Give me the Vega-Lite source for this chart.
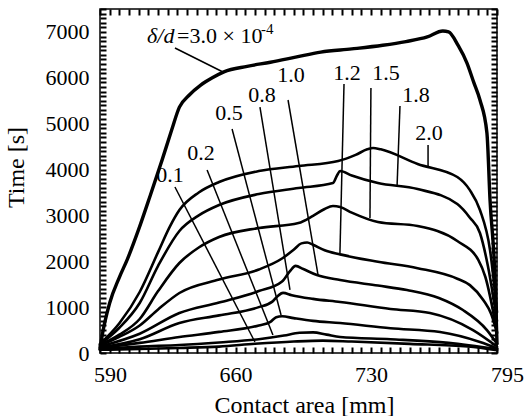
{
  "$schema": "https://vega.github.io/schema/vega-lite/v6.json",
  "width": 397,
  "height": 344,
  "autosize": {"type": "none"},
  "padding": {"left": 100, "top": 9, "right": 29, "bottom": 63},
  "background": "white",
  "config": {
    "view": {"stroke": "black", "strokeWidth": 1.5},
    "font": "Liberation Serif"
  },
  "datasets": {
    "curves": [
      {"s": "3.0", "x": 590, "t": 80}, {"s": "3.0", "x": 591, "t": 350}, {"s": "3.0", "x": 595, "t": 1090}, {"s": "3.0", "x": 600, "t": 1650}, {"s": "3.0", "x": 604, "t": 2030}, {"s": "3.0", "x": 610, "t": 2700}, {"s": "3.0", "x": 616, "t": 3440}, {"s": "3.0", "x": 622, "t": 4200}, {"s": "3.0", "x": 627, "t": 4860}, {"s": "3.0", "x": 631, "t": 5360}, {"s": "3.0", "x": 636, "t": 5620}, {"s": "3.0", "x": 642, "t": 5840}, {"s": "3.0", "x": 648, "t": 6000}, {"s": "3.0", "x": 654, "t": 6130}, {"s": "3.0", "x": 666, "t": 6250}, {"s": "3.0", "x": 678, "t": 6340}, {"s": "3.0", "x": 691, "t": 6450}, {"s": "3.0", "x": 704, "t": 6560}, {"s": "3.0", "x": 720, "t": 6630}, {"s": "3.0", "x": 736, "t": 6710}, {"s": "3.0", "x": 748, "t": 6790}, {"s": "3.0", "x": 759, "t": 6890}, {"s": "3.0", "x": 767, "t": 7020}, {"s": "3.0", "x": 770, "t": 7000}, {"s": "3.0", "x": 775, "t": 6700}, {"s": "3.0", "x": 779.5, "t": 6322}, {"s": "3.0", "x": 783, "t": 5900}, {"s": "3.0", "x": 786.2, "t": 5515}, {"s": "3.0", "x": 789.8, "t": 4796}, {"s": "3.0", "x": 791.4, "t": 3335}, {"s": "3.0", "x": 794, "t": 1590}, {"s": "3.0", "x": 795, "t": 200},

      {"s": "2.0", "x": 590, "t": 200}, {"s": "2.0", "x": 600, "t": 650}, {"s": "2.0", "x": 610.5, "t": 1330}, {"s": "2.0", "x": 620, "t": 2200}, {"s": "2.0", "x": 626, "t": 2750}, {"s": "2.0", "x": 631, "t": 3117}, {"s": "2.0", "x": 641, "t": 3500}, {"s": "2.0", "x": 651.5, "t": 3728}, {"s": "2.0", "x": 672, "t": 3968}, {"s": "2.0", "x": 692.5, "t": 4077}, {"s": "2.0", "x": 713, "t": 4186}, {"s": "2.0", "x": 722, "t": 4320}, {"s": "2.0", "x": 728, "t": 4440}, {"s": "2.0", "x": 731, "t": 4470}, {"s": "2.0", "x": 735, "t": 4440}, {"s": "2.0", "x": 754, "t": 4120}, {"s": "2.0", "x": 774.5, "t": 3837}, {"s": "2.0", "x": 781, "t": 3550}, {"s": "2.0", "x": 786.2, "t": 3117}, {"s": "2.0", "x": 791.4, "t": 2245}, {"s": "2.0", "x": 795, "t": 890},

      {"s": "1.8", "x": 590, "t": 190}, {"s": "1.8", "x": 600, "t": 550}, {"s": "1.8", "x": 610.5, "t": 1090}, {"s": "1.8", "x": 620, "t": 1900}, {"s": "1.8", "x": 631, "t": 2660}, {"s": "1.8", "x": 641, "t": 3000}, {"s": "1.8", "x": 651.5, "t": 3226}, {"s": "1.8", "x": 672, "t": 3466}, {"s": "1.8", "x": 692.5, "t": 3597}, {"s": "1.8", "x": 710.3, "t": 3706}, {"s": "1.8", "x": 712.5, "t": 3880}, {"s": "1.8", "x": 714, "t": 3968}, {"s": "1.8", "x": 720, "t": 3870}, {"s": "1.8", "x": 733.5, "t": 3706}, {"s": "1.8", "x": 754, "t": 3575}, {"s": "1.8", "x": 774.5, "t": 3248}, {"s": "1.8", "x": 781, "t": 2950}, {"s": "1.8", "x": 786.2, "t": 2616}, {"s": "1.8", "x": 790.4, "t": 1875}, {"s": "1.8", "x": 795, "t": 700},

      {"s": "1.5", "x": 590, "t": 175}, {"s": "1.5", "x": 600, "t": 400}, {"s": "1.5", "x": 610.5, "t": 741}, {"s": "1.5", "x": 620, "t": 1350}, {"s": "1.5", "x": 631, "t": 1962}, {"s": "1.5", "x": 641, "t": 2300}, {"s": "1.5", "x": 651.5, "t": 2529}, {"s": "1.5", "x": 672, "t": 2725}, {"s": "1.5", "x": 692.5, "t": 2834}, {"s": "1.5", "x": 700, "t": 2990}, {"s": "1.5", "x": 706, "t": 3140}, {"s": "1.5", "x": 710.3, "t": 3205}, {"s": "1.5", "x": 714, "t": 3183}, {"s": "1.5", "x": 720, "t": 3060}, {"s": "1.5", "x": 733.5, "t": 2856}, {"s": "1.5", "x": 754, "t": 2769}, {"s": "1.5", "x": 774.5, "t": 2442}, {"s": "1.5", "x": 785.4, "t": 2027}, {"s": "1.5", "x": 789, "t": 1657}, {"s": "1.5", "x": 795, "t": 458},

      {"s": "1.2", "x": 590, "t": 160}, {"s": "1.2", "x": 600, "t": 350}, {"s": "1.2", "x": 610.5, "t": 600}, {"s": "1.2", "x": 620, "t": 950}, {"s": "1.2", "x": 631, "t": 1308}, {"s": "1.2", "x": 651.5, "t": 1600}, {"s": "1.2", "x": 672, "t": 1820}, {"s": "1.2", "x": 684, "t": 2060}, {"s": "1.2", "x": 690, "t": 2250}, {"s": "1.2", "x": 694, "t": 2390}, {"s": "1.2", "x": 697, "t": 2410}, {"s": "1.2", "x": 700, "t": 2360}, {"s": "1.2", "x": 706, "t": 2240}, {"s": "1.2", "x": 714, "t": 2150}, {"s": "1.2", "x": 733.5, "t": 1990}, {"s": "1.2", "x": 754, "t": 1850}, {"s": "1.2", "x": 774.5, "t": 1620}, {"s": "1.2", "x": 781, "t": 1480}, {"s": "1.2", "x": 788, "t": 1150}, {"s": "1.2", "x": 792, "t": 850}, {"s": "1.2", "x": 795, "t": 436},

      {"s": "1.0", "x": 590, "t": 140}, {"s": "1.0", "x": 610.5, "t": 420}, {"s": "1.0", "x": 631, "t": 872}, {"s": "1.0", "x": 651.5, "t": 1100}, {"s": "1.0", "x": 672, "t": 1350}, {"s": "1.0", "x": 684, "t": 1560}, {"s": "1.0", "x": 688, "t": 1780}, {"s": "1.0", "x": 691, "t": 1900}, {"s": "1.0", "x": 695, "t": 1830}, {"s": "1.0", "x": 702, "t": 1700}, {"s": "1.0", "x": 714, "t": 1590}, {"s": "1.0", "x": 733.5, "t": 1470}, {"s": "1.0", "x": 748.5, "t": 1373}, {"s": "1.0", "x": 765, "t": 1200}, {"s": "1.0", "x": 777.4, "t": 937}, {"s": "1.0", "x": 789.8, "t": 500}, {"s": "1.0", "x": 795, "t": 200},

      {"s": "0.8", "x": 590, "t": 120}, {"s": "0.8", "x": 610.5, "t": 300}, {"s": "0.8", "x": 631, "t": 654}, {"s": "0.8", "x": 651.5, "t": 820}, {"s": "0.8", "x": 672, "t": 1000}, {"s": "0.8", "x": 679, "t": 1120}, {"s": "0.8", "x": 682, "t": 1250}, {"s": "0.8", "x": 684.5, "t": 1310}, {"s": "0.8", "x": 689, "t": 1260}, {"s": "0.8", "x": 700, "t": 1180}, {"s": "0.8", "x": 714, "t": 1112}, {"s": "0.8", "x": 740, "t": 960}, {"s": "0.8", "x": 760.4, "t": 872}, {"s": "0.8", "x": 782.6, "t": 500}, {"s": "0.8", "x": 795, "t": 140},

      {"s": "0.5", "x": 590, "t": 110}, {"s": "0.5", "x": 610.5, "t": 220}, {"s": "0.5", "x": 631, "t": 349}, {"s": "0.5", "x": 651.5, "t": 460}, {"s": "0.5", "x": 672, "t": 600}, {"s": "0.5", "x": 678, "t": 680}, {"s": "0.5", "x": 681, "t": 780}, {"s": "0.5", "x": 684, "t": 800}, {"s": "0.5", "x": 690, "t": 760}, {"s": "0.5", "x": 700, "t": 700}, {"s": "0.5", "x": 714, "t": 654}, {"s": "0.5", "x": 740, "t": 540}, {"s": "0.5", "x": 765.6, "t": 458}, {"s": "0.5", "x": 786.2, "t": 240}, {"s": "0.5", "x": 795, "t": 100},

      {"s": "0.2", "x": 590, "t": 90}, {"s": "0.2", "x": 610.5, "t": 140}, {"s": "0.2", "x": 631, "t": 175}, {"s": "0.2", "x": 651.5, "t": 230}, {"s": "0.2", "x": 672, "t": 300}, {"s": "0.2", "x": 685, "t": 380}, {"s": "0.2", "x": 693, "t": 440}, {"s": "0.2", "x": 700, "t": 450}, {"s": "0.2", "x": 707, "t": 400}, {"s": "0.2", "x": 714, "t": 349}, {"s": "0.2", "x": 740, "t": 300}, {"s": "0.2", "x": 770, "t": 220}, {"s": "0.2", "x": 795, "t": 80},

      {"s": "0.1", "x": 590, "t": 70}, {"s": "0.1", "x": 631, "t": 110}, {"s": "0.1", "x": 651.5, "t": 140}, {"s": "0.1", "x": 670, "t": 200}, {"s": "0.1", "x": 690, "t": 250}, {"s": "0.1", "x": 705, "t": 270}, {"s": "0.1", "x": 720, "t": 250}, {"s": "0.1", "x": 750, "t": 200}, {"s": "0.1", "x": 780, "t": 140}, {"s": "0.1", "x": 795, "t": 60}
    ],
    "leaders": [
      {"x": 628.7, "y": 6650, "x2": 653.5, "y2": 6126},
      {"x": 628.7, "y": 3619, "x2": 670.0, "y2": 240},
      {"x": 645.3, "y": 3990, "x2": 679.3, "y2": 392},
      {"x": 658.2, "y": 4884, "x2": 683.5, "y2": 828},
      {"x": 672.6, "y": 5363, "x2": 688.1, "y2": 1374},
      {"x": 687.1, "y": 5516, "x2": 702.6, "y2": 1700},
      {"x": 716.0, "y": 5865, "x2": 713.9, "y2": 2180},
      {"x": 729.9, "y": 5778, "x2": 729.4, "y2": 2943},
      {"x": 744.9, "y": 5385, "x2": 743.4, "y2": 3641},
      {"x": 759.4, "y": 4535, "x2": 759.4, "y2": 4033}
    ],
    "labels": [
      {"label": "0.1", "x": 626.1, "y": 3728},
      {"label": "0.2", "x": 642.2, "y": 4208},
      {"label": "0.5", "x": 656.6, "y": 5080},
      {"label": "0.8", "x": 673.6, "y": 5472},
      {"label": "1.0", "x": 688.6, "y": 5908},
      {"label": "1.2", "x": 717.5, "y": 5952},
      {"label": "1.5", "x": 737.7, "y": 5952},
      {"label": "1.8", "x": 753.2, "y": 5472},
      {"label": "2.0", "x": 759.9, "y": 4644}
    ],
    "ratioItalic": [{"text": "δ/d", "x": 614.3, "y": 6759}],
    "ratioValue": [{"text": "=3.0 × 10", "x": 629.8, "y": 6759}],
    "ratioExp": [{"text": "-4", "x": 673.1, "y": 6955}]
  },
  "layer": [
    {
      "data": {"name": "curves"},
      "mark": {"type": "line", "color": "black", "interpolate": "monotone", "strokeCap": "round", "strokeJoin": "round"},
      "encoding": {
        "x": {
          "field": "x", "type": "quantitative",
          "scale": {"domain": [590, 795], "nice": false, "zero": false},
          "axis": {
            "orient": "bottom",
            "values": [590,595,600,605,610,615,620,625,630,635,640,645,650,655,660,665,670,675,680,685,690,695,700,705,710,715,720,725,730,735,740,745,750,755,760,765,770,775,780,785,790,795],
            "format": "d",
            "labelExpr": "indexof([590, 660, 730, 795], datum.value) >= 0 ? datum.label : ''",
            "labelOverlap": false,
            "labelFlush": false,
            "labelFont": "Liberation Serif",
            "labelFontSize": 22,
            "labelColor": "black",
            "labelPadding": 17,
            "labelOffset": {"condition": {"test": "datum.value === 590 || datum.value === 795", "value": 10}, "value": 0},
            "tickSize": -6,
            "tickColor": "black",
            "tickWidth": 2,
            "domain": false,
            "grid": false,
            "title": "Contact area [mm]",
            "titleFont": "Liberation Serif",
            "titleFontSize": 24,
            "titleFontWeight": "normal",
            "titleColor": "black",
            "titleX": 204,
            "titleY": 59,
            "titleBaseline": "alphabetic"
          }
        },
        "y": {
          "field": "t", "type": "quantitative",
          "scale": {"domain": [0, 7500], "nice": false},
          "axis": {
            "orient": "left",
            "values": [0,100,200,300,400,500,600,700,800,900,1000,1100,1200,1300,1400,1500,1600,1700,1800,1900,2000,2100,2200,2300,2400,2500,2600,2700,2800,2900,3000,3100,3200,3300,3400,3500,3600,3700,3800,3900,4000,4100,4200,4300,4400,4500,4600,4700,4800,4900,5000,5100,5200,5300,5400,5500,5600,5700,5800,5900,6000,6100,6200,6300,6400,6500,6600,6700,6800,6900,7000,7100,7200,7300,7400,7500],
            "format": "d",
            "labelExpr": "datum.value % 1000 === 0 ? datum.label : ''",
            "labelOverlap": false,
            "labelFlush": false,
            "labelFont": "Liberation Serif",
            "labelFontSize": 22,
            "labelColor": "black",
            "labelPadding": 17,
            "tickSize": -6,
            "tickColor": "black",
            "tickWidth": 2,
            "domain": false,
            "grid": false,
            "title": "Time [s]",
            "titleFont": "Liberation Serif",
            "titleFontSize": 24,
            "titleFontWeight": "normal",
            "titleColor": "black",
            "titleX": -77,
            "titleY": 158,
            "titleBaseline": "alphabetic"
          }
        },
        "detail": {"field": "s"},
        "strokeWidth": {"condition": {"test": "datum.s === '3.0'", "value": 3.4}, "value": 2.6}
      }
    },
    {
      "data": {"name": "leaders"},
      "mark": {"type": "rule", "color": "black", "strokeWidth": 1.5},
      "encoding": {
        "x": {
          "field": "x", "type": "quantitative",
          "scale": {"domain": [590, 795], "nice": false, "zero": false},
          "axis": {
            "orient": "top",
            "values": [590,595,600,605,610,615,620,625,630,635,640,645,650,655,660,665,670,675,680,685,690,695,700,705,710,715,720,725,730,735,740,745,750,755,760,765,770,775,780,785,790,795],
            "labels": false,
            "tickSize": -6,
            "tickColor": "black",
            "tickWidth": 2,
            "domain": false,
            "grid": false,
            "title": null
          }
        },
        "y": {
          "field": "y", "type": "quantitative",
          "scale": {"domain": [0, 7500], "nice": false},
          "axis": {
            "orient": "right",
            "values": [0,100,200,300,400,500,600,700,800,900,1000,1100,1200,1300,1400,1500,1600,1700,1800,1900,2000,2100,2200,2300,2400,2500,2600,2700,2800,2900,3000,3100,3200,3300,3400,3500,3600,3700,3800,3900,4000,4100,4200,4300,4400,4500,4600,4700,4800,4900,5000,5100,5200,5300,5400,5500,5600,5700,5800,5900,6000,6100,6200,6300,6400,6500,6600,6700,6800,6900,7000,7100,7200,7300,7400,7500],
            "labels": false,
            "tickSize": -6,
            "tickColor": "black",
            "tickWidth": 2,
            "domain": false,
            "grid": false,
            "title": null
          }
        },
        "x2": {"field": "x2"},
        "y2": {"field": "y2"}
      }
    },
    {
      "data": {"name": "labels"},
      "mark": {"type": "text", "font": "Liberation Serif", "fontSize": 22, "color": "black", "align": "center", "baseline": "alphabetic"},
      "encoding": {
        "x": {"field": "x", "type": "quantitative", "scale": {"domain": [590, 795], "nice": false, "zero": false}, "axis": null},
        "y": {"field": "y", "type": "quantitative", "scale": {"domain": [0, 7500], "nice": false}, "axis": null},
        "text": {"field": "label"}
      }
    },
    {
      "data": {"name": "ratioItalic"},
      "mark": {"type": "text", "font": "Liberation Serif", "fontSize": 22, "fontStyle": "italic", "color": "black", "align": "left", "baseline": "alphabetic"},
      "encoding": {
        "x": {"field": "x", "type": "quantitative", "scale": {"domain": [590, 795], "nice": false, "zero": false}, "axis": null},
        "y": {"field": "y", "type": "quantitative", "scale": {"domain": [0, 7500], "nice": false}, "axis": null},
        "text": {"field": "text"}
      }
    },
    {
      "data": {"name": "ratioValue"},
      "mark": {"type": "text", "font": "Liberation Serif", "fontSize": 22, "color": "black", "align": "left", "baseline": "alphabetic"},
      "encoding": {
        "x": {"field": "x", "type": "quantitative", "scale": {"domain": [590, 795], "nice": false, "zero": false}, "axis": null},
        "y": {"field": "y", "type": "quantitative", "scale": {"domain": [0, 7500], "nice": false}, "axis": null},
        "text": {"field": "text"}
      }
    },
    {
      "data": {"name": "ratioExp"},
      "mark": {"type": "text", "font": "Liberation Serif", "fontSize": 15, "color": "black", "align": "left", "baseline": "alphabetic"},
      "encoding": {
        "x": {"field": "x", "type": "quantitative", "scale": {"domain": [590, 795], "nice": false, "zero": false}, "axis": null},
        "y": {"field": "y", "type": "quantitative", "scale": {"domain": [0, 7500], "nice": false}, "axis": null},
        "text": {"field": "text"}
      }
    }
  ],
  "resolve": {"axis": {"x": "independent", "y": "independent"}}
}
